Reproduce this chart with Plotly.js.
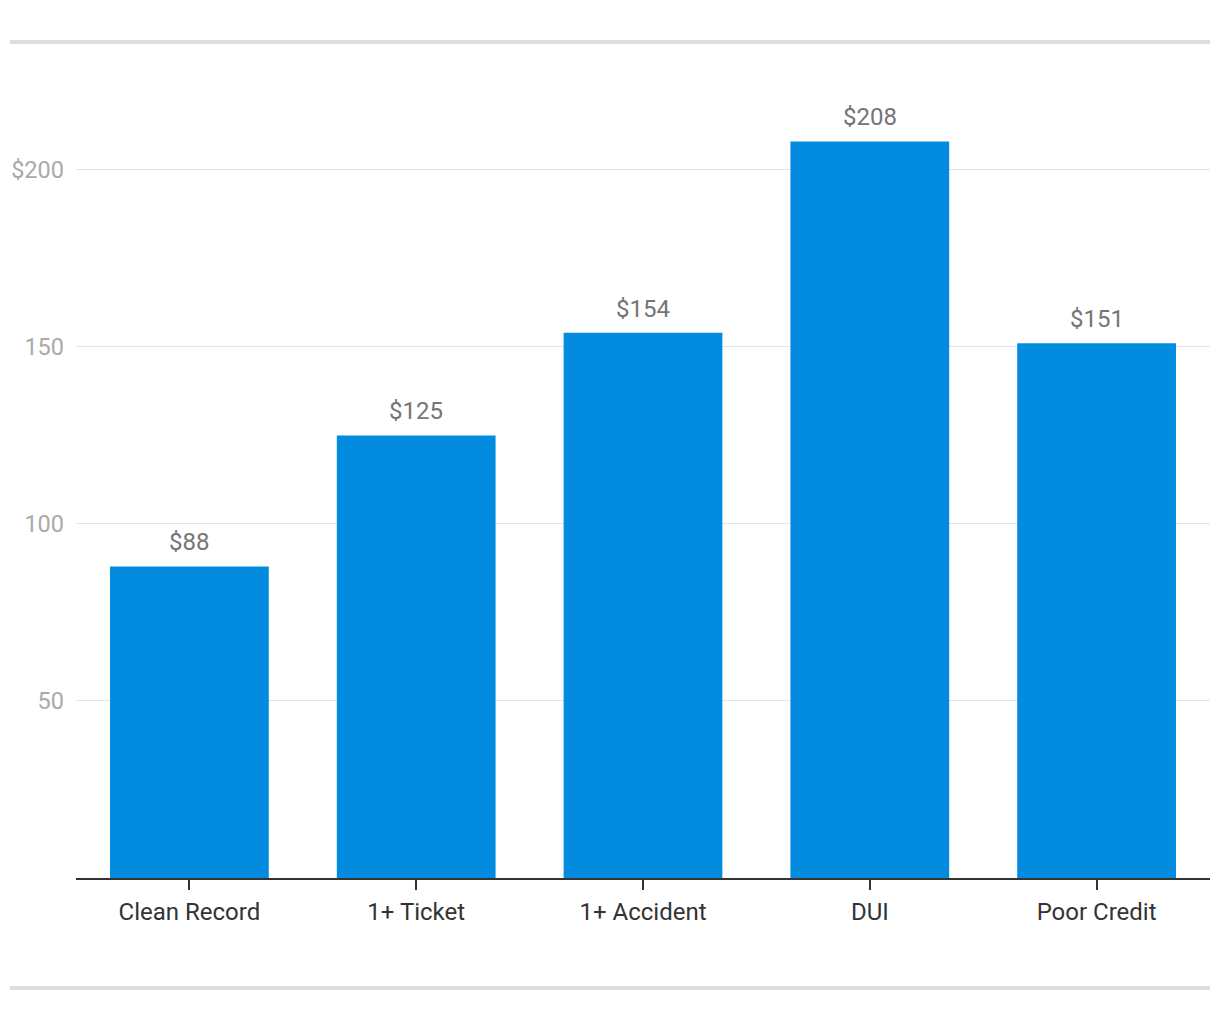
<!DOCTYPE html>
<html>
<head>
<meta charset="utf-8">
<script src="https://cdn.plot.ly/plotly-3.0.1.min.js"></script>
<style>html,body{margin:0;padding:0;background:#fff;}#chart{width:1220px;height:1020px;}</style>
</head>
<body>
<div id="chart"></div>
<script>
const categories = ["Clean Record", "1+ Ticket", "1+ Accident", "DUI", "Poor Credit"];
const values = [88, 125, 154, 208, 151];
const valueLabels = ["$88", "$125", "$154", "$208", "$151"];
const yTickVals = [50, 100, 150, 200];
const yTickText = ["50", "100", "150", "$200"];

const trace = {
  type: "bar",
  x: categories,
  y: values,
  marker: {color: "#038be0"},
  hoverinfo: "none"
};

const annotations = categories.map((c, i) => ({
  x: c, y: values[i], xref: "x", yref: "y",
  text: valueLabels[i], showarrow: false,
  yanchor: "bottom", yshift: 8,
  font: {family: "Roboto", size: 24, color: "#757575"}
}));

const layout = {
  width: 1220, height: 1020,
  margin: {l: 76, r: 10, t: 99, b: 142},
  paper_bgcolor: "#fff", plot_bgcolor: "#fff",
  font: {family: "Roboto"},
  showlegend: false,
  bargap: 0.3,
  xaxis: {
    type: "category",
    showgrid: false,
    showline: true, linecolor: "#333", linewidth: 2,
    ticks: "outside", ticklen: 10, tickwidth: 2, tickcolor: "#333",
    ticklabelstandoff: 1,
    tickfont: {family: "Roboto", size: 24, color: "#333"},
    fixedrange: true
  },
  yaxis: {
    range: [0, 220],
    tickvals: yTickVals, ticktext: yTickText,
    showgrid: true, gridcolor: "#e3e3e3", gridwidth: 1,
    zeroline: false, showline: false, ticks: "",
    ticklabelstandoff: 11,
    tickfont: {family: "Roboto", size: 23.5, color: "#aaaaaa"},
    fixedrange: true
  },
  annotations: annotations,
  shapes: [
    {type: "line", xref: "paper", yref: "paper", x0: -0.0582, x1: 1, y0: 1.0732, y1: 1.0732, line: {color: "#dddddd", width: 4}},
    {type: "line", xref: "paper", yref: "paper", x0: -0.0582, x1: 1, y0: -0.1412, y1: -0.1412, line: {color: "#dddddd", width: 4}}
  ]
};

Plotly.newPlot("chart", [trace], layout, {displayModeBar: false, staticPlot: true});
</script>
</body>
</html>
